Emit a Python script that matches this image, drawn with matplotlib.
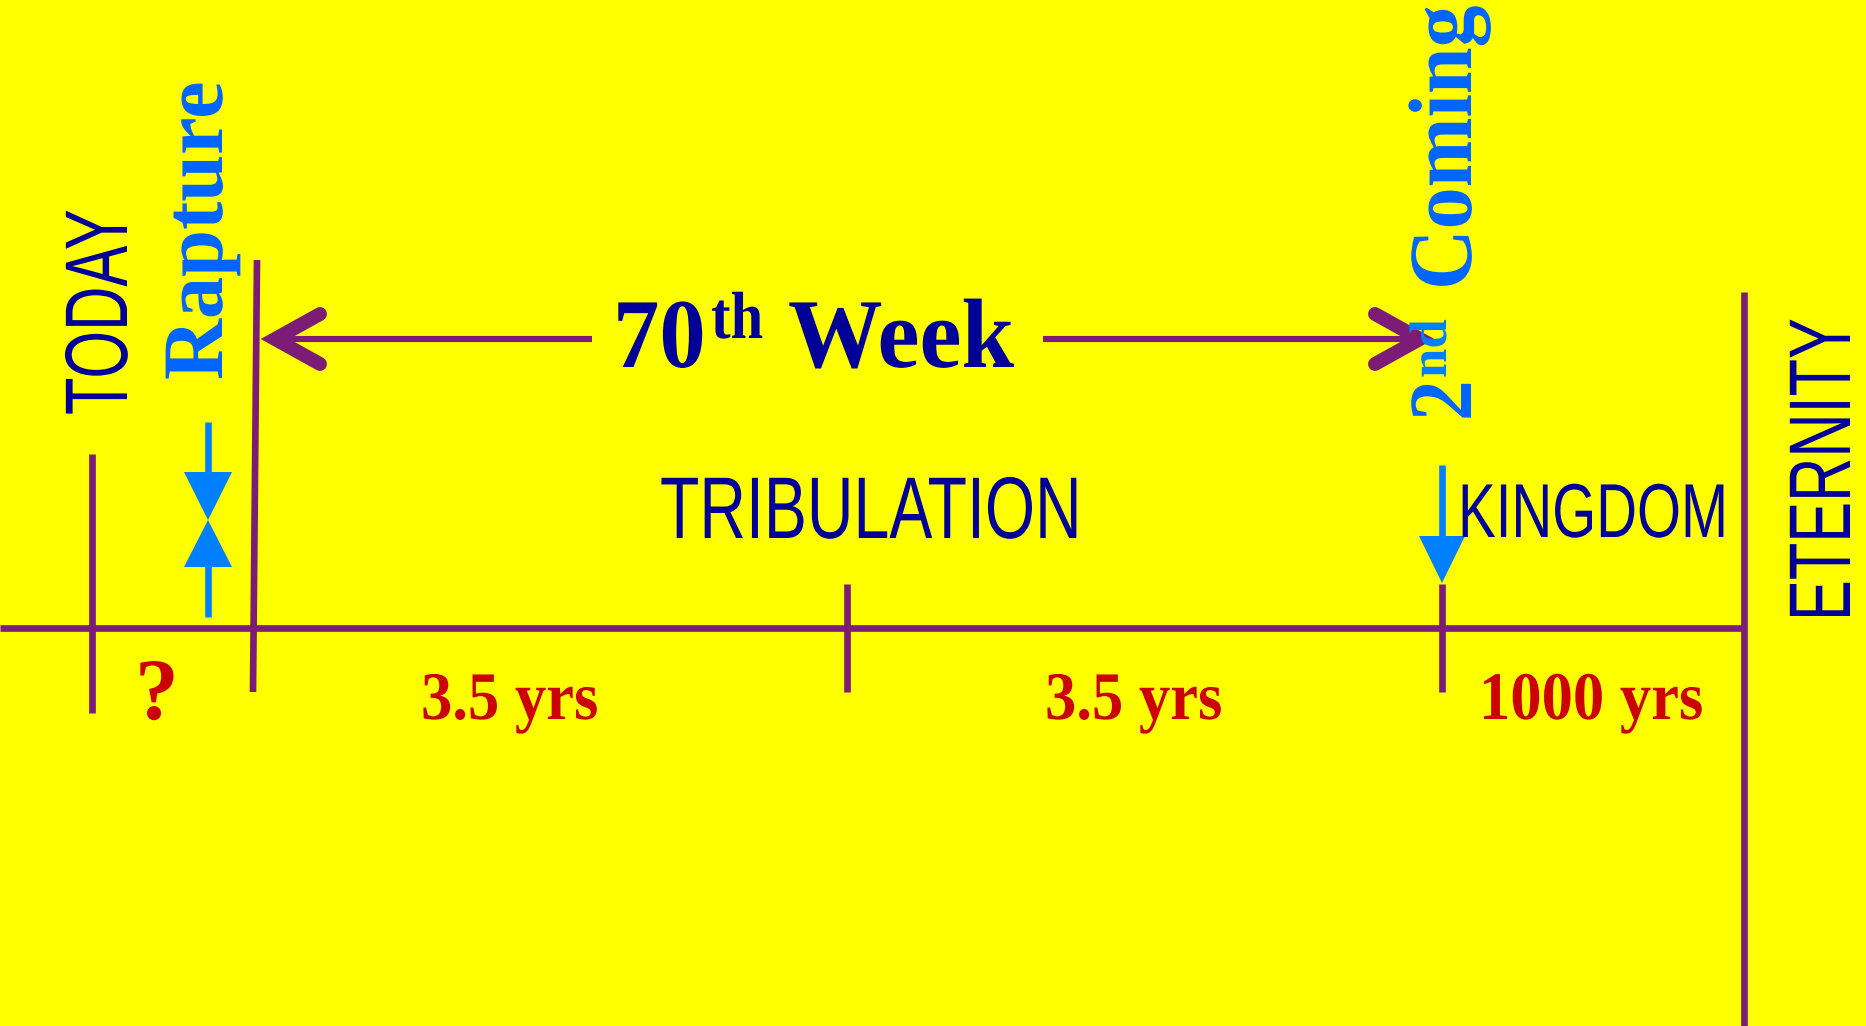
import matplotlib
matplotlib.use("Agg")
import matplotlib.pyplot as plt
from matplotlib.patheffects import AbstractPathEffect
from matplotlib.transforms import Affine2D
from matplotlib.patches import Polygon


# timeline events (x position on the time axis, in picture pixels)
event_names = ["TODAY", "Rapture", "Midpoint", "2nd Coming", "ETERNITY"]
event_x = [92, 255, 847, 1442, 1744]

# spans between events and their durations
span_labels = ["?", "3.5 yrs", "3.5 yrs", "1000 yrs"]
span_x = [135, 421, 1045, 1479]

# period names written above the axis
period_labels = ["TRIBULATION", "KINGDOM"]
period_x = [660, 1458]

W, H = 1866, 1026
axis_y = 628

yellow = "#FFFF00"
purple = "#7B1C76"
navy = "#000099"
sky = "#0066FF"
arrow_blue = "#0080FF"
red = "#CC0000"

sans = ["Liberation Sans", "DejaVu Sans"]
serif = ["Liberation Serif", "DejaVu Serif"]


class Squeeze(AbstractPathEffect):
    """stretch glyphs across the text direction (to fake condensed fonts)"""
    def __init__(self, sx=1.0, sy=1.0):
        super().__init__()
        self.sx = sx
        self.sy = sy

    def draw_path(self, renderer, gc, tpath, affine, rgbFace=None):
        renderer.draw_path(gc, tpath, Affine2D().scale(self.sx, self.sy) + affine, rgbFace)


def label(ax, x, y, s, size, color, family, sx=1.0, weight="normal", rot=0):
    # size = glyph height in pt, sx = width factor; font is set at size*sx
    # and stretched back up so the text box keeps the real length
    ax.text(x, y, s, fontsize=size * sx, color=color, family=family, weight=weight,
            rotation=rot, rotation_mode="anchor", ha="left", va="baseline",
            path_effects=[Squeeze(1.0, 1.0 / sx)])


fig = plt.figure(figsize=(W / 100, H / 100), dpi=100, facecolor=yellow)
ax = fig.add_axes([0, 0, 1, 1])
ax.set_xlim(0, W)
ax.set_ylim(H, 0)
ax.set_facecolor(yellow)
ax.axis("off")

lw = 4.8
# time axis
ax.plot([0, event_x[4]], [axis_y, axis_y], color=purple, lw=lw, solid_capstyle="butt")
# event ticks
ax.plot([event_x[0], event_x[0]], [454, 713], color=purple, lw=lw, solid_capstyle="butt")
ax.plot([event_x[1] + 2, event_x[1] - 2], [260, 692], color=purple, lw=lw, solid_capstyle="butt")
ax.plot([event_x[2], event_x[2]], [584, 692], color=purple, lw=lw, solid_capstyle="butt")
ax.plot([event_x[3], event_x[3]], [584, 692], color=purple, lw=lw, solid_capstyle="butt")
ax.plot([event_x[4], event_x[4]], [292, H], color=purple, lw=lw, solid_capstyle="butt")

# 70th week double arrow
wy = 339
lt, rt = 275, 1420
ax.plot([lt, 592], [wy, wy], color=purple, lw=4.4, solid_capstyle="butt")
ax.plot([1043, rt], [wy, wy], color=purple, lw=4.4, solid_capstyle="butt")
for tip, d in [(lt, 1), (rt, -1)]:
    ax.plot([tip + d * 45, tip, tip + d * 45], [wy - 25, wy, wy + 25], color=purple,
            lw=10, solid_capstyle="round", solid_joinstyle="miter")

# blue arrows: rapture (pinch) and 2nd coming
rx = 208
ax.plot([rx, rx], [422, 474], color=arrow_blue, lw=lw, solid_capstyle="butt")
ax.plot([rx, rx], [565, 617], color=arrow_blue, lw=lw, solid_capstyle="butt")
ax.add_patch(Polygon([[rx - 24, 472], [rx + 24, 472], [rx, 520]], closed=True, color=arrow_blue, lw=0))
ax.add_patch(Polygon([[rx - 24, 567], [rx + 24, 567], [rx, 520]], closed=True, color=arrow_blue, lw=0))
cx = event_x[3]
ax.plot([cx, cx], [465, 538], color=arrow_blue, lw=lw, solid_capstyle="butt")
ax.add_patch(Polygon([[cx - 23, 536], [cx + 23, 536], [cx, 583]], closed=True, color=arrow_blue, lw=0))

# vertical event names
label(ax, 127, 415, event_names[0], 64, navy, sans, sx=0.69, rot=90)
label(ax, 1850, 621, event_names[4], 63, navy, sans, sx=0.70, rot=90)
label(ax, 222, 380, event_names[1], 62, sky, serif, sx=0.98, weight="bold", rot=90)
label(ax, 1471, 421, "2", 65, sky, serif, sx=0.9, weight="bold", rot=90)
label(ax, 1446, 378, "nd", 38, arrow_blue, serif, weight="bold", rot=90)
label(ax, 1471, 290, "Coming", 65, sky, serif, sx=0.93, weight="bold", rot=90)

# 70th week title
label(ax, 613, 367, "70", 71, navy, serif, sx=0.94, weight="bold")
label(ax, 711, 338, "th", 48, navy, serif, sx=0.88, weight="bold")
label(ax, 788, 367, "Week", 71, navy, serif, sx=0.96, weight="bold")

# periods
label(ax, period_x[0], 538, period_labels[0], 63, navy, sans, sx=0.737)
label(ax, period_x[1], 537, period_labels[1], 55, navy, sans, sx=0.74)

# durations
label(ax, span_x[0], 719, span_labels[0], 63, red, serif, weight="bold")
for s, x in zip(span_labels[1:], span_x[1:]):
    label(ax, x, 719, s, 49, red, serif, sx=0.92, weight="bold")

fig.savefig("out.png", dpi=100, facecolor=yellow)
